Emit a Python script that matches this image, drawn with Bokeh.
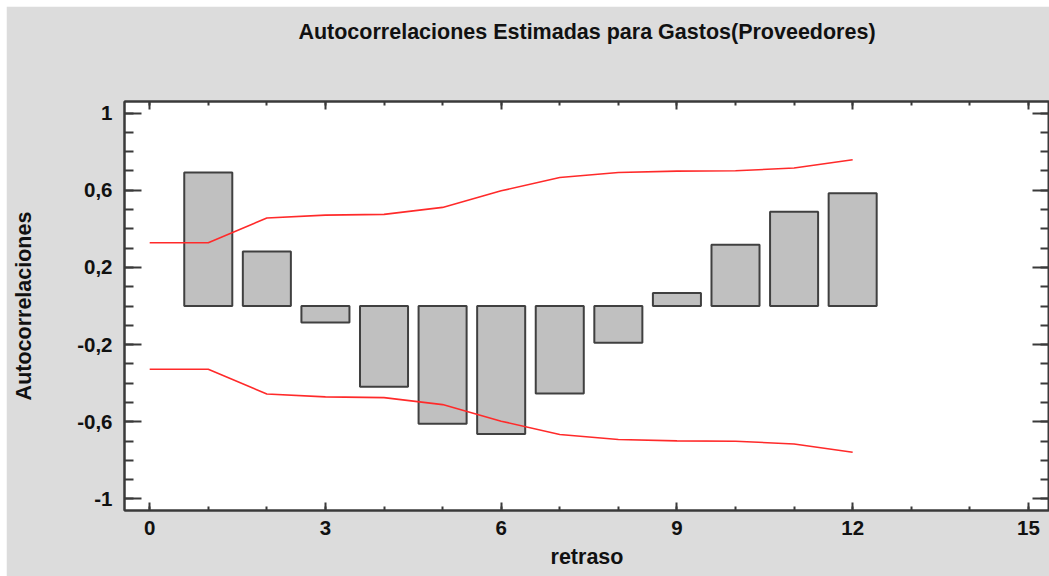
from bokeh.plotting import figure
from bokeh.models import LinearAxis, FixedTicker, CustomJSTickFormatter, Range1d, ColumnDataSource
from bokeh.embed import file_html
from bokeh.resources import INLINE

# ---- data ----
lags = [1, 2, 3, 4, 5, 6, 7, 8, 9, 10, 11, 12]
acf = [0.692, 0.283, -0.085, -0.418, -0.610, -0.663, -0.454, -0.190, 0.067, 0.318, 0.489, 0.585]
limit_lags = [0, 1, 2, 3, 4, 5, 6, 7, 8, 9, 10, 11, 12]
upper_limit = [0.328, 0.328, 0.456, 0.471, 0.475, 0.511, 0.597, 0.666, 0.692, 0.699, 0.701, 0.715, 0.758]
lower_limit = [-0.328, -0.328, -0.456, -0.471, -0.475, -0.511, -0.597, -0.666, -0.692, -0.699, -0.701, -0.715, -0.758]

x_ticks = [0, 3, 6, 9, 12, 15]
x_tick_labels = ["0", "3", "6", "9", "12", "15"]
x_minor = [0, 1, 2, 3, 4, 5, 6, 7, 8, 9, 10, 11, 12, 13, 14, 15]
y_ticks = [-1, -0.6, -0.2, 0.2, 0.6, 1]
y_tick_labels = ["-1", "-0,6", "-0,2", "0,2", "0,6", "1"]
y_minor = [-1.0, -0.9, -0.8, -0.7, -0.6, -0.5, -0.4, -0.3, -0.2, -0.1, 0.0,
           0.1, 0.2, 0.3, 0.4, 0.5, 0.6, 0.7, 0.8, 0.9, 1.0]

title_text = "Autocorrelaciones Estimadas para Gastos(Proveedores)"
x_label = "retraso"
y_label = "Autocorrelaciones"

FONT = "Liberation Sans"
BG = "#dcdcdc"
AXC = "#3a3a3a"

p = figure(width=1043, height=570, output_backend="svg", toolbar_location=None, title=None,
           x_range=Range1d(-0.43, 15.36), y_range=Range1d(-1.06, 1.06),
           background_fill_color="white", border_fill_color=BG,
           min_border_left=118, min_border_right=0, min_border_top=95, min_border_bottom=66,
           x_axis_location=None, y_axis_location=None)
p.margin = (6, 0, 0, 6)
p.grid.visible = False
p.outline_line_color = AXC
p.outline_line_width = 2

src = ColumnDataSource(dict(lag=lags, acf=acf))
p.vbar(x="lag", top="acf", bottom=0, width=0.82, source=src,
       fill_color="#c0c0c0", line_color="#404040", line_width=2)
lim = ColumnDataSource(dict(lag=limit_lags, up=upper_limit, lo=lower_limit))
p.line("lag", "up", source=lim, line_color="#ff2a2a", line_width=1.6)
p.line("lag", "lo", source=lim, line_color="#ff2a2a", line_width=1.6)


def fmt(ticks, labels):
    return CustomJSTickFormatter(args=dict(tv=ticks, lb=labels), code="""
        for (let i = 0; i < tv.length; i++) { if (Math.abs(tv[i] - tick) < 1e-9) return lb[i]; }
        return '';
    """)


def style(ax, major_in, minor_in, show_labels):
    ax.axis_line_color = AXC
    ax.axis_line_width = 2
    ax.major_tick_line_color = AXC
    ax.major_tick_line_width = 2
    ax.minor_tick_line_color = AXC
    ax.minor_tick_line_width = 2
    ax.major_tick_in = major_in
    ax.major_tick_out = 0
    ax.minor_tick_in = minor_in
    ax.minor_tick_out = 0
    ax.major_label_text_font = FONT
    ax.major_label_text_font_style = "bold"
    ax.major_label_text_font_size = "20.5px" if show_labels else "0px"
    ax.major_label_text_color = "#111111"
    ax.axis_label_text_font = FONT
    ax.axis_label_text_font_style = "bold"
    ax.axis_label_text_font_size = "21.5px"
    ax.axis_label_text_color = "#111111"


xt = FixedTicker(ticks=x_ticks, minor_ticks=x_minor)
yt = FixedTicker(ticks=y_ticks, minor_ticks=y_minor)

bottom = LinearAxis(ticker=xt, formatter=fmt(x_ticks, x_tick_labels), axis_label=x_label)
style(bottom, 8, 4, True)
bottom.major_label_standoff = 10
bottom.axis_label_standoff = 7
p.add_layout(bottom, "below")

# top axis: carries the top ticks and the chart title
top = LinearAxis(ticker=xt, formatter=fmt(x_ticks, ["", "", "", "", "", ""]), axis_label=title_text)
style(top, 8, 4, False)
top.major_label_standoff = 0
top.axis_label_standoff = 58
p.add_layout(top, "above")

left = LinearAxis(ticker=yt, formatter=fmt(y_ticks, y_tick_labels), axis_label=y_label)
style(left, 17, 9, True)
left.major_label_standoff = 12
left.axis_label_standoff = 38
p.add_layout(left, "left")

right = LinearAxis(ticker=yt, formatter=fmt(y_ticks, ["", "", "", "", "", ""]))
style(right, 17, 9, False)
right.major_label_standoff = 0
p.add_layout(right, "right")

open("out.html", "w").write(file_html(p, INLINE))
